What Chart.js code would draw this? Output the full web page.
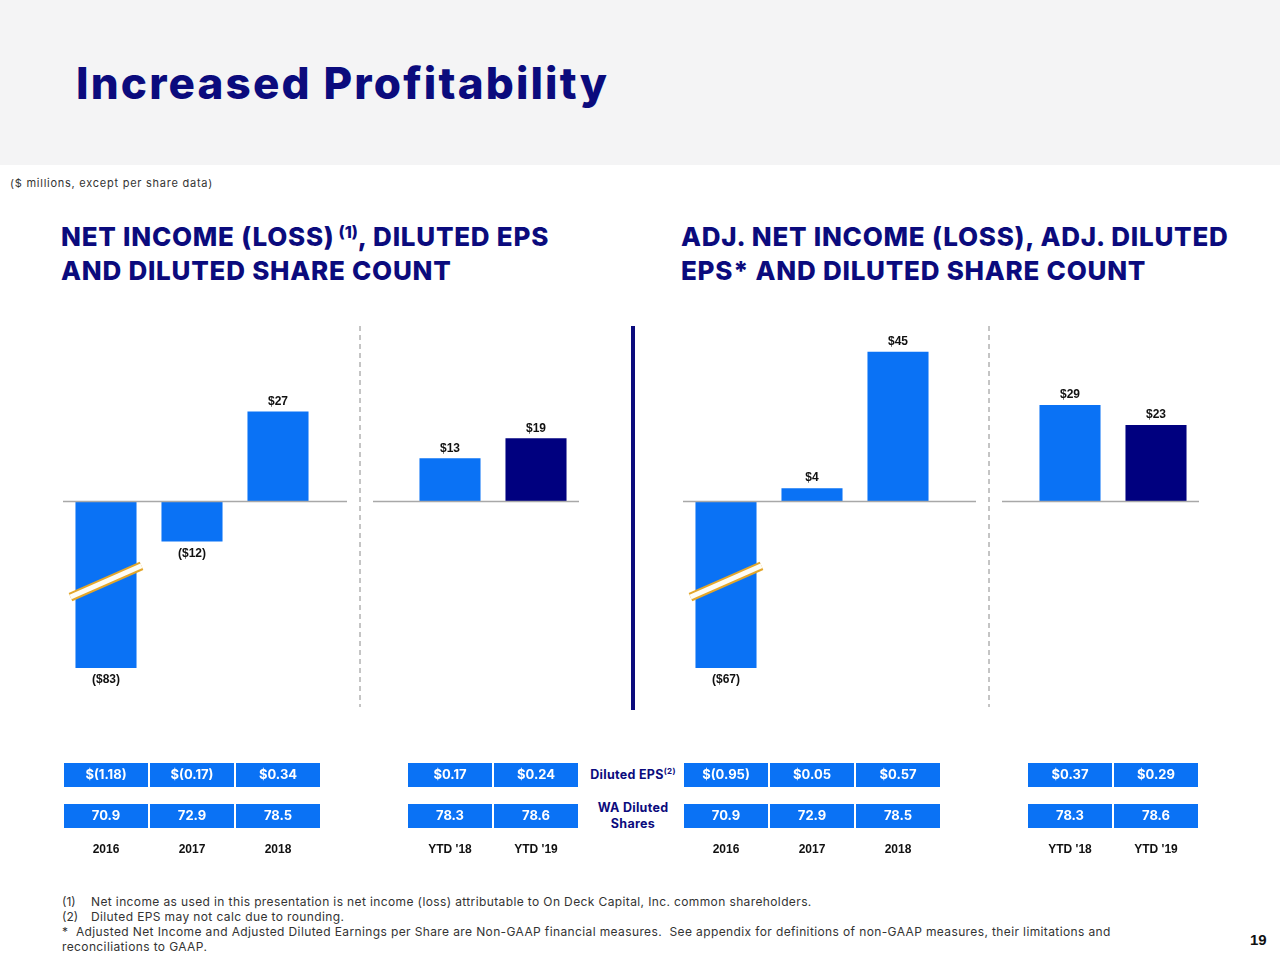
<!DOCTYPE html>
<html>
<head>
<meta charset="utf-8">
<script src="https://cdn.jsdelivr.net/npm/chart.js@4/dist/chart.umd.min.js"></script>
<style>
  html, body { margin: 0; padding: 0; overflow: hidden; }
  body { width: 1280px; height: 960px; position: relative; background: #fff; font-family: Inter, sans-serif; }
  .abs { position: absolute; }
  #band { left: 0; top: 0; width: 1280px; height: 165px; background: #f4f4f5; }
  #title { left: 76px; top: 57px; font-size: 44px; font-weight: 800; color: #0b0b7d; letter-spacing: 2.15px; line-height: 52px; white-space: nowrap; }
  #units { left: 10px; top: 176px; font-size: 11px; color: #333; letter-spacing: 0.75px; }
  .head { top: 220px; font-size: 26px; font-weight: 800; color: #0b0b7d; line-height: 34px; letter-spacing: 0.75px; white-space: nowrap; }
  .head sup { font-size: 16px; position: relative; top: -8px; margin-left: 4px; vertical-align: baseline; line-height: 0; letter-spacing: 0; }
  #divider { left: 631px; top: 326px; width: 4px; height: 384px; background: #0b0b7d; }
  .rowlab { width: 110px; left: 578px; text-align: center; font-size: 12.5px; font-weight: 700; color: #0b0b7d; line-height: 16px; letter-spacing: 0.3px; }
  .rowlab sup { font-size: 8px; vertical-align: baseline; position: relative; top: -5px; }
  #notes { left: 62px; top: 894px; font-size: 12px; color: #333; line-height: 15px; letter-spacing: 0.38px; white-space: nowrap; }
  #notes span { display: inline-block; width: 29px; letter-spacing: 0; }
  #page { left: 1250px; top: 931px; font: bold 15px "Liberation Sans", Arial, sans-serif; color: #111; }
  canvas { position: absolute; }
</style>
</head>
<body>
<div id="band" class="abs"></div>
<div id="title" class="abs">Increased Profitability</div>
<div id="units" class="abs">($ millions, except per share data)</div>
<div class="abs head" style="left:61px">NET INCOME (LOSS)<sup>(1)</sup>, DILUTED EPS<br>AND DILUTED SHARE COUNT</div>
<div class="abs head" style="left:681px">ADJ. NET INCOME (LOSS), ADJ. DILUTED<br>EPS* AND DILUTED SHARE COUNT</div>
<div id="divider" class="abs"></div>
<div class="abs rowlab" style="top:767px">Diluted EPS<sup>(2)</sup></div>
<div class="abs rowlab" style="top:800px">WA Diluted<br>Shares</div>
<canvas id="leftChart" width="516" height="564" style="left:63px;top:300px"></canvas>
<canvas id="rightChart" width="516" height="564" style="left:683px;top:300px"></canvas>
<div id="notes" class="abs">
  <div><span>(1)</span>Net income as used in this presentation is net income (loss) attributable to On Deck Capital, Inc. common shareholders.</div>
  <div><span>(2)</span>Diluted EPS may not calc due to rounding.</div>
  <div>* &nbsp;Adjusted Net Income and Adjusted Diluted Earnings per Share are Non-GAAP financial measures.&nbsp; See appendix for definitions of non-GAAP measures, their limitations and</div>
  <div>reconciliations to GAAP.</div>
</div>
<div id="page" class="abs">19</div>

<script>
// periods (index 3 is the empty gap between full years and YTD)
const periods = ['2016', '2017', '2018', '', "YTD '18", "YTD '19"];

// $ millions
const netIncome = [-83, -12, 27, null, 13, 19];
const adjNetIncome = [-67, 4, 45, null, 29, 23];

// per share data
const dilutedEps = [-1.18, -0.17, 0.34, null, 0.17, 0.24];
const adjDilutedEps = [-0.95, 0.05, 0.57, null, 0.37, 0.29];
const dilutedShares = [70.9, 72.9, 78.5, null, 78.3, 78.6];

const BLUE = '#0a72f5';
const NAVY = '#00007f';

function money(v) {
  return v < 0 ? '($' + Math.abs(v) + ')' : '$' + v;
}

function eps(v) {
  return v < 0 ? '$(' + Math.abs(v).toFixed(2) + ')' : '$' + v.toFixed(2);
}

// baseline, separator, value labels, axis break, EPS / share boxes and period labels
const slidePlugin = {
  id: 'slide',
  afterDatasetsDraw(chart, args, opts) {
    const ctx = chart.ctx;
    const a = chart.chartArea;
    const x = chart.scales.x;
    const y = chart.scales.y;
    const zero = y.getPixelForValue(0);
    const sep = x.getPixelForValue(3) + opts.sepShift;

    ctx.save();
    ctx.strokeStyle = '#a8a8a8';
    ctx.lineWidth = 1.5;
    ctx.beginPath();
    ctx.moveTo(a.left, zero);
    ctx.lineTo(sep - 13, zero);
    ctx.moveTo(sep + 13, zero);
    ctx.lineTo(a.right, zero);
    ctx.stroke();

    ctx.strokeStyle = '#8a8a8a';
    ctx.lineWidth = 1;
    ctx.setLineDash([5, 4]);
    ctx.beginPath();
    ctx.moveTo(sep, a.top - 9);
    ctx.lineTo(sep, a.bottom + 39);
    ctx.stroke();
    ctx.setLineDash([]);

    const values = chart.data.datasets[0].data;
    chart.getDatasetMeta(0).data.forEach((bar, i) => {
      const v = values[i];
      if (v == null) return;
      const end = Math.min(bar.y, a.bottom);
      // bars cut by the axis break
      if (bar.y > a.bottom) {
        const cy = zero + (end - zero) * 0.48;
        const half = bar.width / 2 + 5;
        ctx.lineCap = 'butt';
        ctx.strokeStyle = '#e3a62a';
        ctx.lineWidth = 9;
        ctx.beginPath();
        ctx.moveTo(bar.x - half, cy + half * 0.44);
        ctx.lineTo(bar.x + half, cy - half * 0.44);
        ctx.stroke();
        ctx.strokeStyle = '#fffdf5';
        ctx.lineWidth = 5;
        ctx.stroke();
      }
      ctx.fillStyle = '#111';
      ctx.font = 'bold 12px "Liberation Sans", Arial, sans-serif';
      ctx.textAlign = 'center';
      ctx.textBaseline = 'middle';
      ctx.fillText(money(v), bar.x, v >= 0 ? end - 10 : end + 12);
    });

    opts.rows.forEach((row, r) => {
      const top = a.bottom + 95 + r * 41;
      row.values.forEach((v, i) => {
        if (v == null) return;
        const cx = x.getPixelForValue(i);
        ctx.fillStyle = BLUE;
        ctx.fillRect(cx - 42, top, 84, 24);
        ctx.fillStyle = '#fff';
        ctx.font = '700 13px Inter, sans-serif';
        ctx.textAlign = 'center';
        ctx.textBaseline = 'middle';
        ctx.fillText(row.format(v), cx, top + 12.5);
      });
    });

    ctx.fillStyle = '#111';
    ctx.font = 'bold 12px "Liberation Sans", Arial, sans-serif';
    ctx.textAlign = 'center';
    ctx.textBaseline = 'middle';
    chart.data.labels.forEach((lab, i) => {
      if (lab) ctx.fillText(lab, x.getPixelForValue(i), a.bottom + 182);
    });
    ctx.restore();
  }
};

function drawPanel(id, income, epsValues, sepShift) {
  return new Chart(document.getElementById(id), {
    type: 'bar',
    data: {
      labels: periods,
      datasets: [{
        data: income,
        backgroundColor: income.map((v, i) => i === 5 ? NAVY : BLUE),
        categoryPercentage: 0.71,
        barPercentage: 1,
        clip: 0
      }]
    },
    options: {
      responsive: false,
      animation: false,
      layout: { padding: { top: 35, left: 0, right: 0, bottom: 196 } },
      plugins: {
        legend: { display: false },
        tooltip: { enabled: false },
        slide: {
          sepShift: sepShift,
          rows: [
            { values: epsValues, format: eps },
            { values: dilutedShares, format: v => v.toFixed(1) }
          ]
        }
      },
      scales: {
        x: { display: false },
        y: { display: false, min: -50, max: 50 }
      }
    },
    plugins: [slidePlugin]
  });
}

drawPanel('leftChart', netIncome, dilutedEps, -4);
drawPanel('rightChart', adjNetIncome, adjDilutedEps, 5);
</script>
</body>
</html>
